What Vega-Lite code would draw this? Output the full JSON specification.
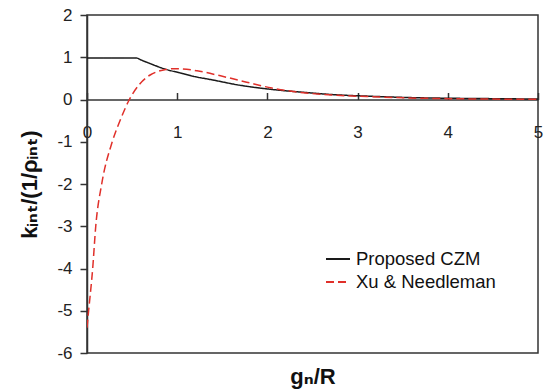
{
  "$schema": "https://vega.github.io/schema/vega-lite/v6.json",
  "width": 451,
  "height": 338,
  "autosize": {"type": "none"},
  "padding": {"left": 87, "top": 15, "right": 11, "bottom": 38},
  "background": "white",
  "config": {
    "view": {"stroke": "#333333", "strokeWidth": 1.5},
    "font": "Liberation Sans, DejaVu Sans",
    "axis": {"grid": false, "domainColor": "#333333", "tickColor": "#333333", "domainWidth": 1.5, "tickWidth": 1.5, "labelColor": "#222222", "labelFont": "Liberation Sans, DejaVu Sans", "titleFont": "Liberation Sans, DejaVu Sans", "titleColor": "#111111"}
  },
  "data": {
    "values": [
      {"g": 0, "k": 0.98, "series": "Proposed CZM"},
      {"g": 0.3, "k": 0.98, "series": "Proposed CZM"},
      {"g": 0.55, "k": 0.98, "series": "Proposed CZM"},
      {"g": 0.6, "k": 0.935, "series": "Proposed CZM"},
      {"g": 0.7, "k": 0.85, "series": "Proposed CZM"},
      {"g": 0.85, "k": 0.73, "series": "Proposed CZM"},
      {"g": 1.03, "k": 0.63, "series": "Proposed CZM"},
      {"g": 1.2, "k": 0.54, "series": "Proposed CZM"},
      {"g": 1.4, "k": 0.46, "series": "Proposed CZM"},
      {"g": 1.66, "k": 0.35, "series": "Proposed CZM"},
      {"g": 2.0, "k": 0.25, "series": "Proposed CZM"},
      {"g": 2.4, "k": 0.17, "series": "Proposed CZM"},
      {"g": 2.77, "k": 0.11, "series": "Proposed CZM"},
      {"g": 3.1, "k": 0.08, "series": "Proposed CZM"},
      {"g": 3.5, "k": 0.05, "series": "Proposed CZM"},
      {"g": 4.0, "k": 0.03, "series": "Proposed CZM"},
      {"g": 4.5, "k": 0.02, "series": "Proposed CZM"},
      {"g": 5.0, "k": 0.01, "series": "Proposed CZM"},
      {"g": 0, "k": -5.4, "series": "Xu & Needleman"},
      {"g": 0.018, "k": -5.0, "series": "Xu & Needleman"},
      {"g": 0.063, "k": -4.0, "series": "Xu & Needleman"},
      {"g": 0.097, "k": -3.0, "series": "Xu & Needleman"},
      {"g": 0.163, "k": -2.0, "series": "Xu & Needleman"},
      {"g": 0.28, "k": -1.0, "series": "Xu & Needleman"},
      {"g": 0.37, "k": -0.48, "series": "Xu & Needleman"},
      {"g": 0.47, "k": 0.0, "series": "Xu & Needleman"},
      {"g": 0.59, "k": 0.38, "series": "Xu & Needleman"},
      {"g": 0.7, "k": 0.58, "series": "Xu & Needleman"},
      {"g": 0.81, "k": 0.68, "series": "Xu & Needleman"},
      {"g": 0.92, "k": 0.725, "series": "Xu & Needleman"},
      {"g": 1.0, "k": 0.73, "series": "Xu & Needleman"},
      {"g": 1.22, "k": 0.68, "series": "Xu & Needleman"},
      {"g": 1.48, "k": 0.56, "series": "Xu & Needleman"},
      {"g": 1.77, "k": 0.41, "series": "Xu & Needleman"},
      {"g": 2.05, "k": 0.27, "series": "Xu & Needleman"},
      {"g": 2.4, "k": 0.16, "series": "Xu & Needleman"},
      {"g": 2.77, "k": 0.1, "series": "Xu & Needleman"},
      {"g": 3.1, "k": 0.07, "series": "Xu & Needleman"},
      {"g": 3.5, "k": 0.04, "series": "Xu & Needleman"},
      {"g": 4.0, "k": 0.02, "series": "Xu & Needleman"},
      {"g": 4.5, "k": 0.01, "series": "Xu & Needleman"},
      {"g": 5.0, "k": 0.005, "series": "Xu & Needleman"}
    ]
  },
  "mark": {"type": "line", "interpolate": "monotone", "strokeWidth": 1.5, "clip": true},
  "encoding": {
    "x": {
      "field": "g", "type": "quantitative",
      "scale": {"domain": [0, 5], "nice": false, "zero": false},
      "axis": {
        "orient": "bottom", "offset": -253.5, "values": [0, 1, 2, 3, 4, 5], "labelExpr": "'' + datum.value",
        "tickSize": -7, "labelPadding": 32, "labelFontSize": 17, "labelFlush": false, "labelOverlap": false,
        "title": "gₙ/R", "titleFontSize": 22, "titleFontWeight": "bold", "titleBaseline": "alphabetic", "titleY": 283.5
      }
    },
    "y": {
      "field": "k", "type": "quantitative",
      "scale": {"domain": [-6, 2], "nice": false, "zero": false},
      "axis": {
        "values": [-6, -5, -4, -3, -2, -1, 0, 1, 2], "labelExpr": "'' + datum.value",
        "tickSize": 7, "labelPadding": 8, "labelFontSize": 17, "labelFlush": false, "labelOverlap": false,
        "title": "kᵢₙₜ/(1/ρᵢₙₜ)", "titleFontSize": 22, "titleFontWeight": "bold", "titleBaseline": "middle", "titleX": -58
      }
    },
    "color": {
      "field": "series", "type": "nominal",
      "scale": {"domain": ["Proposed CZM", "Xu & Needleman"], "range": ["#1a1a1a", "#e0302a"]},
      "legend": {
        "title": null, "orient": "none", "legendX": 238, "legendY": 231,
        "symbolType": "stroke", "symbolSize": 576, "symbolStrokeWidth": 2, "labelFontSize": 18.5, "labelColor": "#111111",
        "labelOffset": 5, "rowPadding": 0, "padding": 0, "labelFont": "Liberation Sans, DejaVu Sans"
      }
    },
    "strokeDash": {
      "field": "series", "type": "nominal",
      "scale": {"domain": ["Proposed CZM", "Xu & Needleman"], "range": [[1, 0], [8, 4]]},
      "legend": null
    }
  }
}
